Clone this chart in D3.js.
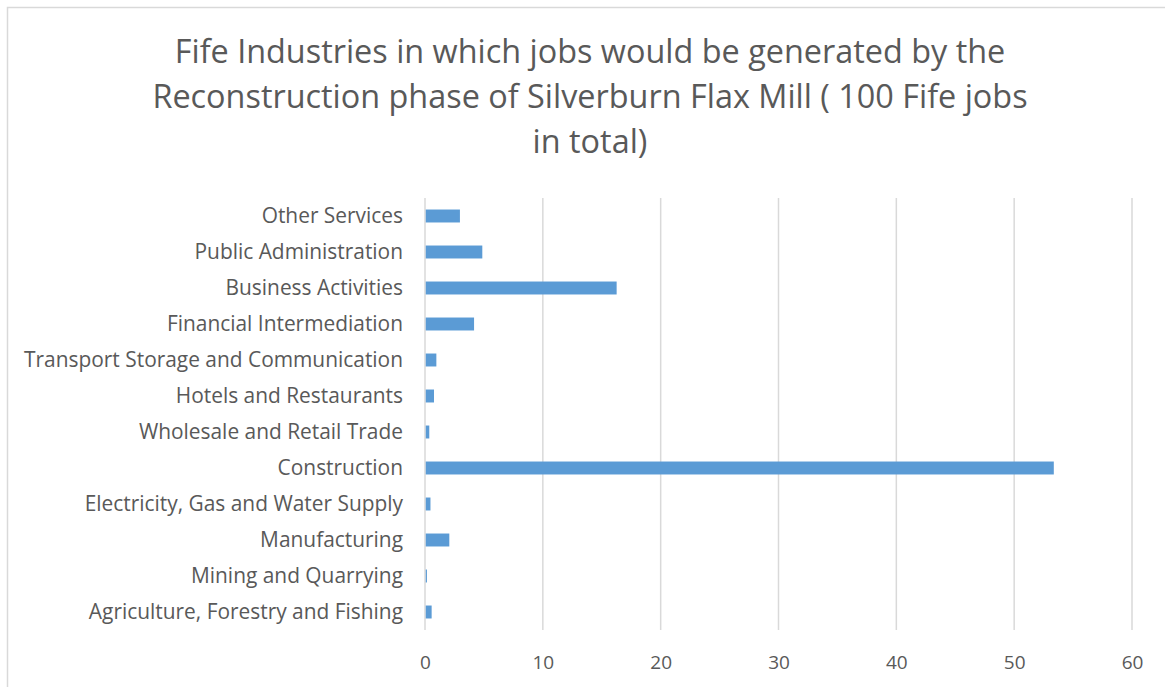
<!DOCTYPE html>
<html>
<head>
<meta charset="utf-8">
<script src="https://cdn.jsdelivr.net/npm/d3@7"></script>
<style>
  html, body { margin: 0; padding: 0; background: #ffffff; }
  svg { display: block; }
</style>
</head>
<body>
<script>
const titleLines = [
  "Fife Industries in which jobs would be generated by the",
  "Reconstruction phase of Silverburn Flax Mill ( 100 Fife jobs",
  "in total)"
];
const categories = [
  "Other Services",
  "Public Administration",
  "Business Activities",
  "Financial Intermediation",
  "Transport Storage and Communication",
  "Hotels and Restaurants",
  "Wholesale and Retail Trade",
  "Construction",
  "Electricity, Gas and Water Supply",
  "Manufacturing",
  "Mining and Quarrying",
  "Agriculture, Forestry and Fishing"
];
const jobs = [2.9, 4.8, 16.2, 4.1, 0.9, 0.7, 0.3, 53.3, 0.4, 2.0, 0.1, 0.5];
const xTicks = [0, 10, 20, 30, 40, 50, 60];

const W = 1165, H = 687;
const margin = { left: 425, right: 33, top: 198, bottom: 57 };
const textColor = "#595959";
const font = "'Open Sans', 'Noto Sans', sans-serif";

const svg = d3.select("body").append("svg")
  .attr("width", W).attr("height", H);

// chart frame
svg.append("rect")
  .attr("x", 7.5).attr("y", 7.5)
  .attr("width", W + 10).attr("height", H + 10)
  .attr("fill", "#ffffff")
  .attr("stroke", "#d9d9d9").attr("stroke-width", 1.5);

// title
const titleY = [63, 108, 153];
svg.append("g").selectAll("text").data(titleLines).join("text")
  .attr("x", 590)
  .attr("y", (d, i) => titleY[i])
  .attr("text-anchor", "middle")
  .attr("font-family", font)
  .attr("font-size", 32.4)
  .attr("fill", textColor)
  .text(d => d);

const x = d3.scaleLinear().domain([0, 60]).range([margin.left, W - margin.right]);
const y = d3.scaleBand().domain(categories)
  .range([margin.top, H - margin.bottom])
  .paddingInner(0.64).paddingOuter(0.32);

// gridlines
svg.append("g").selectAll("line").data(xTicks).join("line")
  .attr("x1", d => x(d)).attr("x2", d => x(d))
  .attr("y1", margin.top).attr("y2", H - margin.bottom)
  .attr("stroke", "#d9d9d9").attr("stroke-width", 1.5);

// bars
svg.append("g").selectAll("rect").data(categories).join("rect")
  .attr("x", x(0) + 0.75)
  .attr("y", d => y(d))
  .attr("width", (d, i) => Math.max(0.8, x(jobs[i]) - x(0)))
  .attr("height", y.bandwidth())
  .attr("fill", "#5b9bd5");

// x axis labels
const xAxis = d3.axisBottom(x).tickValues(xTicks).tickSize(0).tickPadding(0);
const gx = svg.append("g")
  .attr("transform", `translate(0, ${H - margin.bottom})`)
  .call(xAxis);
gx.select(".domain").remove();
gx.selectAll("text")
  .attr("dy", 0)
  .attr("y", 39)
  .attr("font-family", font)
  .attr("font-size", 19)
  .attr("fill", textColor);

// y axis labels
const yAxis = d3.axisLeft(y).tickSize(0).tickPadding(0);
const gy = svg.append("g")
  .attr("transform", `translate(${margin.left - 22}, 0)`)
  .call(yAxis);
gy.select(".domain").remove();
gy.selectAll("text")
  .attr("font-family", font)
  .attr("font-size", 20.9)
  .attr("fill", textColor);
</script>
</body>
</html>
